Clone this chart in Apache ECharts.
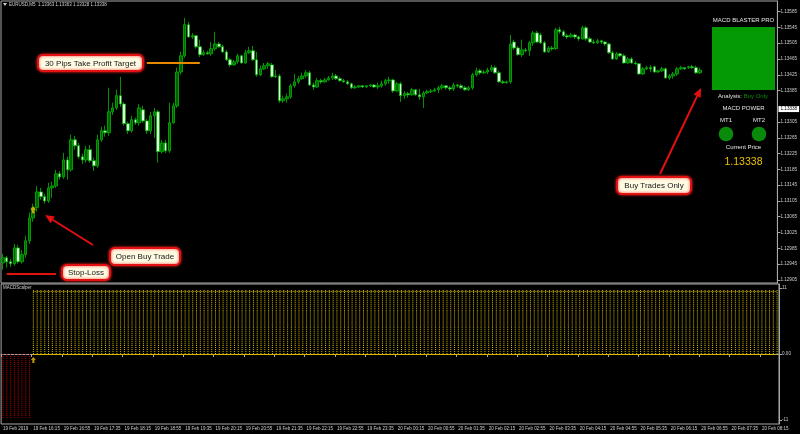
<!DOCTYPE html>
<html><head><meta charset="utf-8">
<script src="https://cdn.jsdelivr.net/npm/echarts@6/dist/echarts.min.js"></script>
<style>html,body{margin:0;padding:0;background:#000}#c{width:800px;height:434px}</style>
</head><body><div id="c"></div>
<script>
const opens = [
1.12948,1.12961,1.12951,1.12946,1.12986,1.12951,1.12969,1.13004,1.13062,1.13088,
1.13128,1.13116,1.13105,1.13138,1.13143,1.13174,1.13166,1.13209,1.13184,1.13260,
1.13245,1.13217,1.13209,1.13235,1.13207,1.13194,1.13260,1.13283,1.13278,1.13331,
1.13341,1.13372,1.13351,1.13301,1.13283,1.13311,1.13303,1.13336,1.13308,1.13283,
1.13321,1.13331,1.13230,1.13252,1.13232,1.13303,1.13346,1.13432,1.13473,1.13552,
1.13521,1.13524,1.13496,1.13476,1.13481,1.13478,1.13491,1.13503,1.13496,1.13483,
1.13463,1.13450,1.13458,1.13473,1.13455,1.13481,1.13486,1.13463,1.13425,1.13440,
1.13448,1.13450,1.13420,1.13422,1.13359,1.13364,1.13369,1.13397,1.13407,1.13415,
1.13422,1.13430,1.13399,1.13394,1.13410,1.13407,1.13412,1.13417,1.13422,1.13415,
1.13410,1.13407,1.13402,1.13392,1.13394,1.13397,1.13394,1.13397,1.13399,1.13394,
1.13397,1.13402,1.13410,1.13412,1.13384,1.13402,1.13372,1.13377,1.13374,1.13387,
1.13374,1.13369,1.13379,1.13382,1.13384,1.13387,1.13392,1.13397,1.13392,1.13389,
1.13399,1.13397,1.13392,1.13387,1.13392,1.13425,1.13435,1.13430,1.13432,1.13437,
1.13443,1.13430,1.13407,1.13405,1.13407,1.13508,1.13493,1.13476,1.13488,1.13486,
1.13506,1.13531,1.13526,1.13506,1.13483,1.13493,1.13491,1.13539,1.13534,1.13524,
1.13521,1.13526,1.13521,1.13516,1.13544,1.13516,1.13508,1.13506,1.13511,1.13508,
1.13503,1.13481,1.13465,1.13478,1.13473,1.13455,1.13465,1.13455,1.13453,1.13427,
1.13440,1.13443,1.13445,1.13432,1.13435,1.13440,1.13417,1.13422,1.13427,1.13440,
1.13443,1.13443,1.13445,1.13443,1.13430];
const closes = [
1.12961,1.12951,1.12946,1.12986,1.12951,1.12969,1.13004,1.13062,1.13088,1.13128,
1.13116,1.13105,1.13138,1.13143,1.13174,1.13166,1.13209,1.13184,1.13260,1.13245,
1.13217,1.13209,1.13235,1.13207,1.13194,1.13260,1.13283,1.13278,1.13331,1.13341,
1.13372,1.13351,1.13301,1.13283,1.13311,1.13303,1.13341,1.13308,1.13283,1.13321,
1.13331,1.13230,1.13252,1.13232,1.13303,1.13346,1.13432,1.13473,1.13552,1.13521,
1.13524,1.13496,1.13476,1.13481,1.13478,1.13491,1.13503,1.13496,1.13483,1.13463,
1.13450,1.13458,1.13473,1.13455,1.13481,1.13486,1.13463,1.13425,1.13440,1.13448,
1.13453,1.13420,1.13422,1.13359,1.13364,1.13369,1.13397,1.13407,1.13415,1.13422,
1.13430,1.13399,1.13394,1.13410,1.13407,1.13412,1.13417,1.13422,1.13415,1.13410,
1.13407,1.13402,1.13392,1.13394,1.13397,1.13394,1.13397,1.13399,1.13394,1.13397,
1.13402,1.13410,1.13412,1.13384,1.13402,1.13372,1.13377,1.13374,1.13387,1.13374,
1.13369,1.13379,1.13382,1.13384,1.13387,1.13392,1.13397,1.13392,1.13389,1.13399,
1.13397,1.13392,1.13387,1.13392,1.13425,1.13435,1.13430,1.13432,1.13437,1.13443,
1.13430,1.13407,1.13405,1.13407,1.13503,1.13493,1.13476,1.13488,1.13486,1.13506,
1.13531,1.13508,1.13506,1.13483,1.13493,1.13491,1.13539,1.13534,1.13524,1.13521,
1.13526,1.13521,1.13516,1.13544,1.13516,1.13508,1.13506,1.13511,1.13508,1.13503,
1.13481,1.13465,1.13478,1.13473,1.13455,1.13465,1.13455,1.13453,1.13427,1.13440,
1.13443,1.13440,1.13432,1.13435,1.13440,1.13417,1.13422,1.13427,1.13440,1.13443,
1.13440,1.13445,1.13443,1.13430,1.13437];
const lows = [
1.12931,1.12936,1.12938,1.12941,1.12946,1.12946,1.12961,1.12996,1.13052,1.13078,
1.13108,1.13098,1.13100,1.13113,1.13138,1.13159,1.13161,1.13159,1.13179,1.13235,
1.13212,1.13199,1.13202,1.13202,1.13181,1.13189,1.13255,1.13268,1.13270,1.13323,
1.13336,1.13344,1.13296,1.13275,1.13278,1.13298,1.13296,1.13303,1.13275,1.13275,
1.13265,1.13202,1.13225,1.13227,1.13227,1.13301,1.13341,1.13425,1.13468,1.13519,
1.13516,1.13491,1.13470,1.13473,1.13476,1.13473,1.13486,1.13493,1.13481,1.13460,
1.13445,1.13448,1.13453,1.13453,1.13453,1.13478,1.13460,1.13420,1.13422,1.13437,
1.13440,1.13417,1.13417,1.13354,1.13354,1.13354,1.13364,1.13392,1.13402,1.13412,
1.13417,1.13397,1.13387,1.13392,1.13402,1.13405,1.13410,1.13412,1.13412,1.13407,
1.13405,1.13399,1.13389,1.13389,1.13392,1.13392,1.13392,1.13394,1.13392,1.13389,
1.13392,1.13397,1.13402,1.13379,1.13382,1.13356,1.13364,1.13367,1.13372,1.13372,
1.13361,1.13341,1.13377,1.13379,1.13382,1.13379,1.13387,1.13387,1.13384,1.13384,
1.13392,1.13389,1.13384,1.13384,1.13387,1.13420,1.13425,1.13427,1.13427,1.13432,
1.13427,1.13405,1.13402,1.13402,1.13402,1.13488,1.13473,1.13470,1.13481,1.13473,
1.13498,1.13506,1.13503,1.13481,1.13481,1.13486,1.13488,1.13529,1.13521,1.13516,
1.13519,1.13516,1.13511,1.13514,1.13511,1.13506,1.13503,1.13503,1.13503,1.13498,
1.13478,1.13463,1.13463,1.13470,1.13453,1.13453,1.13453,1.13450,1.13425,1.13425,
1.13437,1.13432,1.13430,1.13430,1.13432,1.13415,1.13412,1.13415,1.13422,1.13437,
1.13437,1.13440,1.13440,1.13427,1.13427];
const highs = [
1.12971,1.12966,1.12958,1.12996,1.12994,1.12981,1.13017,1.13075,1.13098,1.13143,
1.13138,1.13123,1.13151,1.13154,1.13184,1.13181,1.13227,1.13217,1.13273,1.13270,
1.13252,1.13225,1.13245,1.13247,1.13215,1.13273,1.13293,1.13296,1.13392,1.13354,
1.13387,1.13420,1.13356,1.13306,1.13321,1.13316,1.13351,1.13346,1.13313,1.13331,
1.13341,1.13336,1.13260,1.13260,1.13354,1.13354,1.13443,1.13483,1.13569,1.13559,
1.13531,1.13526,1.13514,1.13488,1.13486,1.13508,1.13534,1.13508,1.13501,1.13488,
1.13468,1.13463,1.13478,1.13476,1.13488,1.13496,1.13498,1.13483,1.13448,1.13455,
1.13458,1.13455,1.13437,1.13427,1.13372,1.13377,1.13402,1.13427,1.13422,1.13430,
1.13437,1.13435,1.13405,1.13417,1.13415,1.13417,1.13422,1.13430,1.13427,1.13420,
1.13415,1.13412,1.13405,1.13399,1.13399,1.13399,1.13399,1.13402,1.13402,1.13405,
1.13410,1.13415,1.13420,1.13415,1.13407,1.13407,1.13384,1.13382,1.13392,1.13389,
1.13389,1.13384,1.13387,1.13389,1.13392,1.13397,1.13402,1.13399,1.13397,1.13405,
1.13402,1.13402,1.13397,1.13397,1.13430,1.13443,1.13440,1.13437,1.13443,1.13450,
1.13448,1.13435,1.13412,1.13410,1.13526,1.13514,1.13498,1.13514,1.13493,1.13511,
1.13536,1.13536,1.13531,1.13511,1.13498,1.13498,1.13544,1.13547,1.13539,1.13529,
1.13531,1.13529,1.13524,1.13549,1.13549,1.13521,1.13514,1.13516,1.13514,1.13511,
1.13506,1.13486,1.13483,1.13481,1.13478,1.13470,1.13470,1.13460,1.13455,1.13445,
1.13448,1.13450,1.13448,1.13437,1.13445,1.13443,1.13427,1.13432,1.13445,1.13448,
1.13445,1.13448,1.13450,1.13448,1.13443];
const macdValues = [
-10.5,-10.5,-10.5,-10.5,-10.5,-10.5,-10.5,-10.5,
10.5,10.5,10.5,10.5,10.5,10.5,10.5,10.5,10.5,10.5,10.5,10.5,10.5,10.5,10.5,10.5,10.5,10.5,10.5,10.5,
10.5,10.5,10.5,10.5,10.5,10.5,10.5,10.5,10.5,10.5,10.5,10.5,10.5,10.5,10.5,10.5,10.5,10.5,10.5,10.5,
10.5,10.5,10.5,10.5,10.5,10.5,10.5,10.5,10.5,10.5,10.5,10.5,10.5,10.5,10.5,10.5,10.5,10.5,10.5,10.5,
10.5,10.5,10.5,10.5,10.5,10.5,10.5,10.5,10.5,10.5,10.5,10.5,10.5,10.5,10.5,10.5,10.5,10.5,10.5,10.5,
10.5,10.5,10.5,10.5,10.5,10.5,10.5,10.5,10.5,10.5,10.5,10.5,10.5,10.5,10.5,10.5,10.5,10.5,10.5,10.5,
10.5,10.5,10.5,10.5,10.5,10.5,10.5,10.5,10.5,10.5,10.5,10.5,10.5,10.5,10.5,10.5,10.5,10.5,10.5,10.5,
10.5,10.5,10.5,10.5,10.5,10.5,10.5,10.5,10.5,10.5,10.5,10.5,10.5,10.5,10.5,10.5,10.5,10.5,10.5,10.5,
10.5,10.5,10.5,10.5,10.5,10.5,10.5,10.5,10.5,10.5,10.5,10.5,10.5,10.5,10.5,10.5,10.5,10.5,10.5,10.5,
10.5,10.5,10.5,10.5,10.5,10.5,10.5,10.5,10.5,10.5,10.5,10.5,10.5,10.5,10.5,10.5,10.5,10.5,10.5,10.5,
10.5,10.5,10.5,10.5,10.5,10.5,10.5,10.5,10.5,10.5,10.5,10.5,10.5,10.5,10.5,10.5,10.5];
const priceTicks = [1.12905,1.12945,1.12985,1.13025,1.13065,1.13105,1.13145,1.13185,1.13225,1.13265,1.13305,1.13385,1.13425,1.13465,1.13505,1.13545,1.13585];
const macdTicks = [11, 0, -11];
const xTickLabels = ['19 Feb 2019','19 Feb 16:15','19 Feb 16:55','19 Feb 17:35','19 Feb 18:15','19 Feb 18:55','19 Feb 19:35','19 Feb 20:15','19 Feb 20:55','19 Feb 21:35','19 Feb 22:15','19 Feb 22:55','19 Feb 23:35','20 Feb 00:15','20 Feb 00:55','20 Feb 01:35','20 Feb 02:15','20 Feb 02:55','20 Feb 03:35','20 Feb 04:15','20 Feb 04:55','20 Feb 05:35','20 Feb 06:15','20 Feb 06:55','20 Feb 07:35','20 Feb 08:15'];
const currentPrice = 1.13338;
const tpPrice = 1.13455;
const slPrice = 1.12920;
const buyIndex = 8;
const buyArrowPrice = 1.13083;
const buyArrowMacd = -1;
const titleText = 'EURUSD,M5  1.13363 1.13363 1.13328 1.13338';

const barCount = macdValues.length;
const pad = n => (n < 10 ? '0' : '') + n;
const categories = [];
for (let k = 0; k < barCount; k++) {
  const t = 15 * 60 + 35 + 5 * k;
  const day = t >= 1440 ? 20 : 19;
  const m = t % 1440;
  categories.push(day + ' Feb ' + pad(Math.floor(m / 60)) + ':' + pad(m % 60));
}
const candles = opens.map((o, i) => [o, closes[i], lows[i], highs[i]]);
const FONT = 'Liberation Sans, Arial, sans-serif';
const AX = '#a8a8a8';
const TXT = '#cfcfcf';
const ARROW = 'path://M5,0 L10,5 L7,5 L7,10 L3,10 L3,5 L0,5 Z';

function callout(x, y, w, h, text) {
  return [
    {type:'rect', z:100, shape:{x:x, y:y, width:w, height:h, r:5},
     style:{fill:'#fffbe3', stroke:'#e31212', lineWidth:2, shadowBlur:3, shadowColor:'rgba(255,40,40,0.9)'}},
    {type:'text', z:101, x:x + w / 2, y:y + h / 2 + 0.5,
     style:{text:text, fill:'#151515', fontSize:8, fontFamily:FONT, align:'center', verticalAlign:'middle'}}
  ];
}
function arrow(x1, y1, x2, y2) {
  const dx = x2 - x1, dy = y2 - y1, L = Math.hypot(dx, dy);
  const ux = dx / L, uy = dy / L, hl = 9, hw = 4;
  const bx = x2 - ux * hl, by = y2 - uy * hl;
  return [
    {type:'line', z:100, shape:{x1:x1, y1:y1, x2:bx, y2:by}, style:{stroke:'#e41010', lineWidth:2}},
    {type:'polygon', z:100, shape:{points:[[x2, y2], [bx - uy * hw, by + ux * hw], [bx + uy * hw, by - ux * hw]]}, style:{fill:'#e41010'}}
  ];
}
function txt(x, y, s, size, color, align) {
  return {type:'text', z:110, x:x, y:y, style:{text:s, fill:color, fontSize:size, fontFamily:FONT, align:align || 'center', verticalAlign:'middle'}};
}

const graphic = [
  {type:'polygon', z:50, shape:{points:[[3, 3], [7, 3], [5, 6]]}, style:{fill:TXT}},
  txt(9, 5, titleText, 4.5, TXT, 'left'),
  txt(3, 288, 'MACDScalper', 4.5, TXT, 'left'),
  ...callout(38, 55, 105, 16, '30 Pips Take Profit Target'),
  ...callout(110, 248, 70, 17, 'Open Buy Trade'),
  ...callout(62, 265, 48, 15, 'Stop-Loss'),
  ...callout(617, 177, 74, 17, 'Buy Trades Only'),
  ...arrow(93, 245, 45, 215),
  ...arrow(660, 174, 701, 88),
  txt(743.5, 20, 'MACD BLASTER PRO', 6, '#e6e6e6'),
  {type:'rect', z:110, shape:{x:712, y:27, width:63, height:63}, style:{fill:'#039a03'}},
  {type:'text', z:110, x:743, y:96, style:{text:'{a|Analysis: }{b|Buy Only}', fontSize:6, fontFamily:FONT, align:'center', verticalAlign:'middle',
     rich:{a:{fill:'#e0e0e0', fontSize:6, fontFamily:FONT}, b:{fill:'#089008', fontSize:6, fontFamily:FONT}}}},
  txt(743.5, 108, 'MACD POWER', 6, '#e6e6e6'),
  txt(726, 120, 'MT1', 6, '#e6e6e6'),
  txt(759, 120, 'MT2', 6, '#e6e6e6'),
  {type:'circle', z:110, shape:{cx:726, cy:134, r:7.3}, style:{fill:'#0a8a0a'}},
  {type:'circle', z:110, shape:{cx:759, cy:134, r:7.3}, style:{fill:'#0a8a0a'}},
  txt(743.5, 147, 'Current Price', 6, '#e6e6e6'),
  txt(743.5, 162.5, '1.13338', 10.5, '#eac200')
];

const option = {
  backgroundColor:'#000',
  animation:false,
  grid:[
    {left:1, right:21, top:1, height:282, show:true, borderColor:AX, borderWidth:1, backgroundColor:'#000'},
    {left:1, right:21, top:284, height:140, show:true, borderColor:AX, borderWidth:1, backgroundColor:'#000'}
  ],
  xAxis:[
    {type:'category', gridIndex:0, data:categories, show:false},
    {type:'category', gridIndex:1, data:categories,
     axisLine:{show:true, lineStyle:{color:AX}},
     axisTick:{show:true, interval:7, length:3, lineStyle:{color:AX}},
     axisLabel:{interval:7, align:'left', fontSize:4.5, color:TXT, margin:2.5, fontFamily:FONT,
                formatter:(v, i) => xTickLabels[i / 8] || ''}}
  ],
  yAxis:[
    {type:'value', gridIndex:0, position:'right', min:1.12897, max:1.13612,
     axisLine:{show:true, lineStyle:{color:AX}},
     axisTick:{show:true, length:3, customValues:priceTicks, lineStyle:{color:AX}},
     axisLabel:{customValues:priceTicks, formatter:v => v.toFixed(5), fontSize:4.6, color:TXT, margin:3, fontFamily:FONT},
     splitLine:{show:false}},
    {type:'value', gridIndex:1, position:'right', min:-11.67, max:11.67,
     axisLine:{show:true, lineStyle:{color:AX}},
     axisTick:{show:true, length:3, customValues:macdTicks, lineStyle:{color:AX}},
     axisLabel:{customValues:macdTicks, formatter:v => (v === 0 ? '0.00' : String(v)), fontSize:4.6, color:TXT, margin:3, fontFamily:FONT},
     splitLine:{show:false}}
  ],
  series:[
    {type:'candlestick', xAxisIndex:0, yAxisIndex:0, data:candles, barWidth:3,
     itemStyle:{color:'#006400', borderColor:'#00b800', color0:'#e4ffe4', borderColor0:'#00b800', borderWidth:0.8},
     markLine:{silent:true, symbol:['none', 'none'], animation:false, label:{show:false},
       data:[
         [{coord:[38, tpPrice], lineStyle:{color:'#e88a00', width:2, type:'solid'}}, {coord:[52, tpPrice]}],
         [{coord:[1, slPrice], lineStyle:{color:'#e41010', width:2, type:'solid'}}, {coord:[14, slPrice]}]
       ]}},
    {type:'scatter', xAxisIndex:0, yAxisIndex:0, data:[[buyIndex, buyArrowPrice]], symbol:ARROW, symbolSize:[6, 7],
     itemStyle:{color:'#f0c000'}, z:5,
     markLine:{silent:true, symbol:['none', 'none'], animation:false,
       data:[
         [{coord:[0, currentPrice], lineStyle:{color:'rgba(0,0,0,0)', width:0},
           label:{show:true, position:'end', distance:3, formatter:'1.13338', color:'#000', backgroundColor:'#ffffff',
                  padding:[1, 2, 0, 2], fontSize:4.6, fontFamily:FONT}},
          {coord:[barCount - 1, currentPrice]}]
       ]}},
    {type:'pictorialBar', xAxisIndex:1, yAxisIndex:1, barWidth:1, symbol:'rect', symbolRepeat:true,
     symbolSize:[1, 1], symbolMargin:0.5,
     data:macdValues.map(v => ({value:v, itemStyle:{color:v < 0 ? '#b80000' : '#d4b800'}})),
     markLine:{silent:true, symbol:['none', 'none'], animation:false, label:{show:false},
       data:[
         [{coord:[buyIndex, 0], lineStyle:{color:'#d4b800', width:1, type:'solid'}}, {coord:[barCount - 1, 0]}],
         [{coord:[buyIndex, 10.5], lineStyle:{color:'#d4b800', width:1, type:'dotted'}}, {coord:[barCount - 1, 10.5]}]
       ]}},
    {type:'scatter', xAxisIndex:1, yAxisIndex:1, data:[[buyIndex, buyArrowMacd]], symbol:ARROW, symbolSize:[5, 6],
     itemStyle:{color:'#f0c000'}, z:5}
  ],
  graphic:graphic
};
const chart = echarts.init(document.getElementById('c'), null, {renderer:'canvas'});
chart.setOption(option);
</script></body></html>
